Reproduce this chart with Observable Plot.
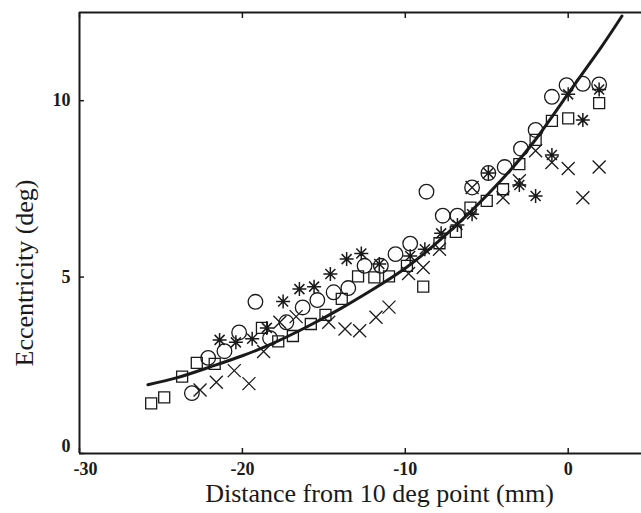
<!DOCTYPE html>
<html>
<head>
<meta charset="utf-8">
<script src="https://cdn.jsdelivr.net/npm/d3@7"></script>
<script src="https://cdn.jsdelivr.net/npm/@observablehq/plot@0.6"></script>
<style>
  html, body { margin: 0; padding: 0; background: #fff; }
  #chart svg { display: block; }
</style>
</head>
<body>
<div id="chart"></div>
<script>
// ---- data ----
const xTicks = [-30, -20, -10, 0];
const yTicks = [0, 5, 10];
const xTickLabels = ["-30", "-20", "-10", "0"];
const yTickLabels = ["0", "5", "10"];
const xTitle = "Distance from 10 deg point (mm)";
const yTitle = "Eccentricity (deg)";

const squareX = [-25.6,-24.8,-23.7,-22.8,-21.7,-18.8,-17.8,-16.9,-15.8,-14.9,-13.9,-12.9,-11.9,-11.0,-9.9,-8.9,-7.9,-6.9,-6.0,-5.0,-4.0,-3.0,-2.0,-1.0,0.0,1.9];
const squareY = [1.42,1.59,2.18,2.57,2.54,3.56,3.18,3.33,3.67,3.93,4.38,5.02,4.99,5.02,5.32,4.73,5.96,6.28,6.97,7.16,7.49,8.20,8.89,9.43,9.50,9.93];

const circleX = [-23.1,-22.1,-21.1,-20.2,-19.2,-18.3,-17.3,-16.3,-15.4,-14.4,-13.5,-12.5,-11.5,-10.6,-9.7,-8.7,-7.7,-6.8,-5.9,-4.9,-3.9,-2.9,-2.0,-1.0,-0.1,0.9,1.9];
const circleY = [1.71,2.71,2.90,3.43,4.30,3.27,3.72,4.14,4.35,4.57,4.69,5.32,5.32,5.65,5.95,7.42,6.74,6.74,7.54,7.95,8.12,8.64,9.17,10.11,10.44,10.48,10.46];

const asteriskX = [-21.4,-20.4,-19.4,-18.5,-17.5,-16.5,-15.6,-14.6,-13.6,-12.7,-11.6,-9.7,-8.8,-7.8,-6.8,-5.9,-4.9,-3.0,-2.0,-1.0,0.0,0.9,1.9];
const asteriskY = [3.22,3.15,3.25,3.56,4.31,4.66,4.73,5.09,5.51,5.67,5.37,5.60,5.79,6.24,6.48,6.78,7.95,7.61,7.30,8.46,10.18,9.45,10.32];

const crossX = [-22.6,-21.6,-20.5,-19.6,-18.7,-17.7,-16.7,-14.7,-13.7,-12.8,-11.8,-11.0,-9.8,-8.9,-7.9,-5.9,-4.0,-3.0,-2.0,-1.0,0.0,0.9,1.9];
const crossY = [1.80,2.02,2.35,1.98,2.89,3.72,3.88,3.72,3.53,3.48,3.86,4.15,5.10,5.27,5.79,7.54,7.25,7.73,8.58,8.25,8.08,7.25,8.12];

const fitX = [-25.8,-24,-22,-20,-18,-16,-14,-12,-10,-8,-6,-4,-2,0,2,3.3];
const fitY = [1.95,2.15,2.45,2.77,3.15,3.6,4.1,4.65,5.25,6.0,6.85,7.8,8.9,10.2,11.5,12.4];

// ---- tables built from the arrays ----
const pts = (xs, ys) => xs.map((x, i) => ({x, y: ys[i]}));
const squares = pts(squareX, squareY);
const circles = pts(circleX, circleY);
const asterisks = pts(asteriskX, asteriskY);
const crosses = pts(crossX, crossY);
const fit = pts(fitX, fitY);
const xLab = xTicks.map((v, i) => ({v, t: xTickLabels[i]}));
const yLab = yTicks.map((v, i) => ({v, t: yTickLabels[i]}));

// ---- custom symbols ----
const symSquare = {draw(ctx) { const h = 5.5; ctx.moveTo(-h, -h); ctx.lineTo(h, -h); ctx.lineTo(h, h); ctx.lineTo(-h, h); ctx.closePath(); }};
const symCross = {draw(ctx) { const h = 6.5; ctx.moveTo(-h, -h); ctx.lineTo(h, h); ctx.moveTo(h, -h); ctx.lineTo(-h, h); }};
const symStar = {draw(ctx) {
  const h = 7, d = 5;
  ctx.moveTo(-h, 0); ctx.lineTo(h, 0);
  ctx.moveTo(0, -h); ctx.lineTo(0, h);
  ctx.moveTo(-d, -d); ctx.lineTo(d, d);
  ctx.moveTo(d, -d); ctx.lineTo(-d, d);
}};

const ink = "#1a1a1a";
const serif = "Liberation Serif, Times New Roman, serif";
const tickFont = {fontSize: 18, fontWeight: "bold", fontFamily: serif, fill: ink};

const chart = Plot.plot({
  width: 641,
  height: 513,
  marginLeft: 79,
  marginRight: 0,
  marginTop: 12,
  marginBottom: 60,
  style: {fontFamily: serif, background: "#fff", color: ink, overflow: "visible"},
  x: {domain: [-30, 4.5]},
  y: {domain: [0, 12.5]},
  marks: [
    // frame (left, bottom, top)
    Plot.ruleX([-30], {stroke: ink, strokeWidth: 2}),
    Plot.ruleY([0], {stroke: ink, strokeWidth: 2}),
    Plot.ruleY([12.5], {stroke: ink, strokeWidth: 2}),
    // inward ticks
    Plot.axisX({ticks: xTicks, anchor: "bottom", tickSize: -5, tickFormat: () => "", label: null, stroke: ink, strokeWidth: 1.5}),
    Plot.axisX({ticks: xTicks, anchor: "top", tickSize: -5, tickFormat: () => "", label: null, stroke: ink, strokeWidth: 1.5}),
    Plot.axisY({ticks: yTicks, anchor: "left", tickSize: -5, tickFormat: () => "", label: null, stroke: ink, strokeWidth: 1.5}),
    // tick labels (first x label nudged right, first y label nudged up, as in the reference)
    Plot.text(xLab.slice(1), {x: "v", text: "t", frameAnchor: "bottom", dy: 16, lineAnchor: "middle", ...tickFont}),
    Plot.text(xLab.slice(0, 1), {x: "v", text: "t", frameAnchor: "bottom", dy: 16, dx: 6, lineAnchor: "middle", ...tickFont}),
    Plot.text(yLab.slice(1), {y: "v", text: "t", frameAnchor: "left", dx: -9, textAnchor: "end", lineAnchor: "middle", ...tickFont}),
    Plot.text(yLab.slice(0, 1), {y: "v", text: "t", frameAnchor: "left", dx: -9, dy: -7, textAnchor: "end", lineAnchor: "middle", ...tickFont}),
    // axis titles
    Plot.text([xTitle], {text: d => d, frameAnchor: "bottom", dy: 40, dx: 19, fontSize: 26, fontFamily: serif, fill: ink, textAnchor: "middle", lineAnchor: "middle"}),
    Plot.text([yTitle], {text: d => d, frameAnchor: "left", dx: -55, dy: 40, rotate: -90, fontSize: 26, fontFamily: serif, fill: ink, textAnchor: "middle", lineAnchor: "middle"}),
    // data
    Plot.dot(squares, {x: "x", y: "y", symbol: symSquare, r: 5, stroke: ink, strokeWidth: 1.3, fill: "none"}),
    Plot.dot(circles, {x: "x", y: "y", symbol: "circle", r: 7.3, stroke: ink, strokeWidth: 1.3, fill: "none"}),
    Plot.dot(crosses, {x: "x", y: "y", symbol: symCross, r: 5, stroke: ink, strokeWidth: 1.3, fill: "none"}),
    Plot.dot(asterisks, {x: "x", y: "y", symbol: symStar, r: 5, stroke: ink, strokeWidth: 1.5, fill: "none"}),
    Plot.line(fit, {x: "x", y: "y", curve: "natural", stroke: ink, strokeWidth: 3})
  ]
});
document.getElementById("chart").appendChild(chart);
</script>
</body>
</html>
